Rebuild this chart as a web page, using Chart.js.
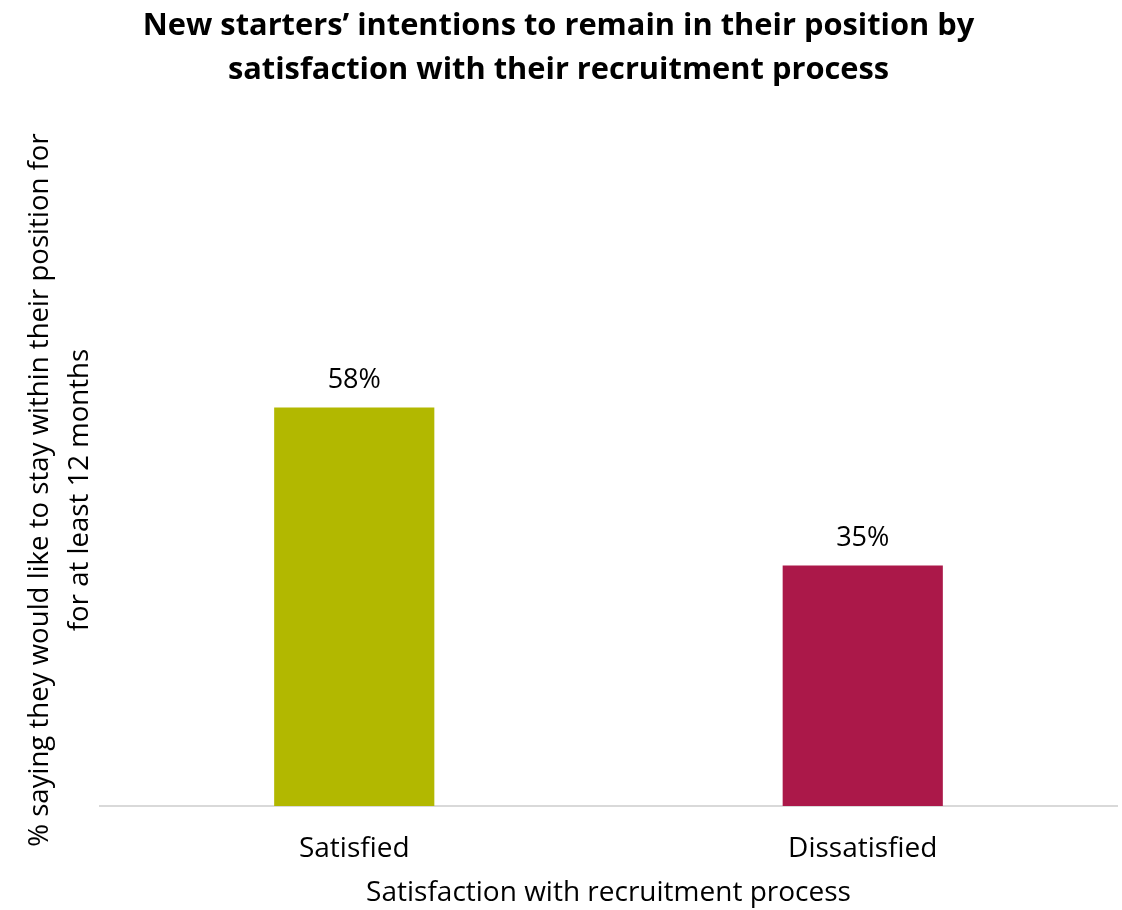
<!DOCTYPE html>
<html>
<head>
<meta charset="utf-8">
<script src="https://cdn.jsdelivr.net/npm/chart.js@4"></script>
<style>
  html, body { margin: 0; padding: 0; background: #fff; }
  #wrap { width: 1122px; height: 910px; }
</style>
</head>
<body>
<div id="wrap"><canvas id="intentChart" width="1122" height="910"></canvas></div>
<script>
const categories = ["Satisfied", "Dissatisfied"];
const stayValues = [58, 35];
const barColours = ["#b2b800", "#ab1849"];
const chartTitle = ["New starters\u2019 intentions to remain in their position by", "satisfaction with their recruitment process"];
const yTitle = ["% saying they would like to stay within their position for", "for at least 12 months"];
const xTitle = "Satisfaction with recruitment process";

const FONT = "Open Sans";

// draws the value above each bar
const valueLabels = {
  id: "valueLabels",
  afterDatasetsDraw(chart) {
    const ctx = chart.ctx;
    const meta = chart.getDatasetMeta(0);
    ctx.save();
    ctx.font = "27px " + FONT;
    ctx.fillStyle = "#000";
    ctx.textAlign = "center";
    ctx.textBaseline = "middle";
    meta.data.forEach(function (bar, i) {
      ctx.fillText(stayValues[i] + "%", bar.x, bar.y - 27);
    });
    ctx.restore();
  }
};

document.addEventListener("DOMContentLoaded", function () {
  const ctx = document.getElementById("intentChart");
  new Chart(ctx, {
    type: "bar",
    data: {
      labels: categories,
      datasets: [{
        data: stayValues,
        backgroundColor: barColours,
        barPercentage: 0.315,
        categoryPercentage: 1
      }]
    },
    options: {
      responsive: false,
      animation: false,
      layout: { padding: { left: 0, right: 5, top: 0, bottom: 0 } },
      plugins: {
        legend: { display: false },
        tooltip: { enabled: false },
        title: {
          display: true,
          text: chartTitle,
          color: "#000",
          font: { family: FONT, size: 30.8, weight: "bold", lineHeight: 1.43 },
          padding: { top: 4, bottom: 82 }
        }
      },
      scales: {
        x: {
          grid: { display: false, drawTicks: false },
          border: { display: true, color: "#d9d9d9", width: 2 },
          ticks: { color: "#000", font: { family: FONT, size: 28 }, padding: 26 },
          title: {
            display: true,
            text: xTitle,
            color: "#000",
            font: { family: FONT, size: 28 },
            padding: { top: 0, bottom: 0 }
          },
          afterFit(scale) { scale.height = 104; }
        },
        y: {
          min: 0,
          max: 92,
          grid: { display: false, drawTicks: false },
          border: { display: false },
          ticks: { display: false },
          title: {
            display: true,
            text: yTitle,
            color: "#000",
            font: { family: FONT, size: 27.6, lineHeight: 1.45 },
            padding: { top: 20, bottom: 0 }
          },
          afterFit(scale) { scale.width = 100; }
        }
      }
    },
    plugins: [valueLabels]
  });
});
</script>
</body>
</html>
